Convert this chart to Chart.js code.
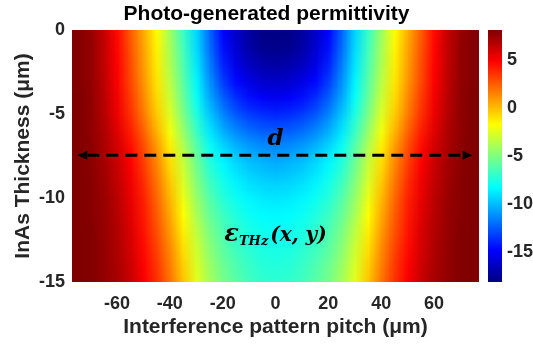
<!DOCTYPE html>
<html>
<head>
<meta charset="utf-8">
<script src="https://cdn.jsdelivr.net/npm/chart.js@4.4.1/dist/chart.umd.min.js"></script>
<style>
  html, body { margin: 0; padding: 0; background: #ffffff; }
  #c { display: block; }
</style>
</head>
<body>
<canvas id="c" width="533" height="345"></canvas>
<script>
// Lateral position across one interference period (um) and depth into the InAs layer (um)
const pitchX = [-75, -70, -65, -60, -55, -50, -45, -40, -35, -30, -25, -20, -15, -10, -5, 0,
                5, 10, 15, 20, 25, 30, 35, 40, 45, 50, 55, 60, 65, 70, 75];
const depthY = [0, -1, -2, -3, -4, -5, -6, -7, -8, -9, -10, -11, -12, -13, -14, -15];

// Photo-generated THz permittivity, one row per depth
const epsD0  = [8.0, 7.5, 6.3, 4.6, 2.5, 0.4, -1.7, -4.2, -6.8, -9.3, -12.2, -14.8, -16.3, -17.3, -17.9, -18.0, -17.9, -17.3, -16.3, -14.8, -12.2, -9.3, -6.8, -4.2, -1.7, 0.4, 2.5, 4.6, 6.3, 7.5, 8.0];
const epsD1  = [8.0, 7.6, 6.4, 4.7, 2.7, 0.6, -1.5, -4.0, -6.6, -9.2, -12.0, -14.5, -16.0, -17.1, -17.7, -17.8, -17.7, -17.1, -16.0, -14.5, -12.0, -9.2, -6.6, -4.0, -1.5, 0.6, 2.7, 4.7, 6.4, 7.6, 8.0];
const epsD2  = [8.0, 7.6, 6.4, 4.8, 2.9, 0.8, -1.3, -3.8, -6.3, -8.9, -11.6, -14.0, -15.5, -16.5, -17.0, -17.2, -17.0, -16.5, -15.5, -14.0, -11.6, -8.9, -6.3, -3.8, -1.3, 0.8, 2.9, 4.8, 6.4, 7.6, 8.0];
const epsD3  = [8.0, 7.6, 6.5, 4.9, 3.0, 1.0, -1.1, -3.5, -6.0, -8.5, -11.1, -13.3, -14.7, -15.6, -16.1, -16.3, -16.1, -15.6, -14.7, -13.3, -11.1, -8.5, -6.0, -3.5, -1.1, 1.0, 3.0, 4.9, 6.5, 7.6, 8.0];
const epsD4  = [8.1, 7.7, 6.6, 5.1, 3.3, 1.3, -0.8, -3.1, -5.6, -8.1, -10.5, -12.4, -13.7, -14.5, -15.0, -15.2, -15.0, -14.5, -13.7, -12.4, -10.5, -8.1, -5.6, -3.1, -0.8, 1.3, 3.3, 5.1, 6.6, 7.7, 8.1];
const epsD5  = [8.1, 7.7, 6.7, 5.3, 3.6, 1.7, -0.4, -2.6, -5.1, -7.5, -9.7, -11.4, -12.6, -13.3, -13.7, -13.9, -13.7, -13.3, -12.6, -11.4, -9.7, -7.5, -5.1, -2.6, -0.4, 1.7, 3.6, 5.3, 6.7, 7.7, 8.1];
const epsD6  = [8.1, 7.7, 6.9, 5.6, 4.1, 2.3, 0.2, -2.0, -4.4, -6.8, -8.9, -10.3, -11.3, -12.0, -12.4, -12.5, -12.4, -12.0, -11.3, -10.3, -8.9, -6.8, -4.4, -2.0, 0.2, 2.3, 4.1, 5.6, 6.9, 7.7, 8.1];
const epsD7  = [8.1, 7.8, 7.0, 6.0, 4.6, 2.9, 0.9, -1.3, -3.7, -6.0, -8.0, -9.2, -10.1, -10.7, -11.1, -11.3, -11.1, -10.7, -10.1, -9.2, -8.0, -6.0, -3.7, -1.3, 0.9, 2.9, 4.6, 6.0, 7.0, 7.8, 8.1];
const epsD8  = [8.1, 7.8, 7.2, 6.2, 4.9, 3.3, 1.4, -0.8, -3.1, -5.4, -7.3, -8.4, -9.2, -9.8, -10.1, -10.3, -10.1, -9.8, -9.2, -8.4, -7.3, -5.4, -3.1, -0.8, 1.4, 3.3, 4.9, 6.2, 7.2, 7.8, 8.1];
const epsD9  = [8.1, 7.9, 7.3, 6.4, 5.2, 3.7, 1.8, -0.3, -2.7, -4.9, -6.7, -7.8, -8.6, -9.1, -9.4, -9.5, -9.4, -9.1, -8.6, -7.8, -6.7, -4.9, -2.7, -0.3, 1.8, 3.7, 5.2, 6.4, 7.3, 7.9, 8.1];
const epsD10 = [8.1, 7.9, 7.4, 6.6, 5.4, 4.0, 2.2, 0.1, -2.2, -4.4, -6.1, -7.3, -8.0, -8.5, -8.8, -8.9, -8.8, -8.5, -8.0, -7.3, -6.1, -4.4, -2.2, 0.1, 2.2, 4.0, 5.4, 6.6, 7.4, 7.9, 8.1];
const epsD11 = [8.1, 7.9, 7.5, 6.7, 5.6, 4.2, 2.5, 0.5, -1.7, -3.9, -5.6, -6.7, -7.5, -8.0, -8.3, -8.4, -8.3, -8.0, -7.5, -6.7, -5.6, -3.9, -1.7, 0.5, 2.5, 4.2, 5.6, 6.7, 7.5, 7.9, 8.1];
const epsD12 = [8.1, 8.0, 7.5, 6.8, 5.8, 4.4, 2.8, 0.9, -1.3, -3.4, -5.1, -6.3, -7.0, -7.6, -7.9, -8.0, -7.9, -7.6, -7.0, -6.3, -5.1, -3.4, -1.3, 0.9, 2.8, 4.4, 5.8, 6.8, 7.5, 8.0, 8.1];
const epsD13 = [8.1, 8.0, 7.6, 6.9, 5.9, 4.6, 3.1, 1.3, -0.9, -3.0, -4.7, -5.9, -6.7, -7.2, -7.6, -7.7, -7.6, -7.2, -6.7, -5.9, -4.7, -3.0, -0.9, 1.3, 3.1, 4.6, 5.9, 6.9, 7.6, 8.0, 8.1];
const epsD14 = [8.1, 8.0, 7.6, 7.0, 6.1, 4.8, 3.4, 1.6, -0.5, -2.7, -4.3, -5.5, -6.3, -6.9, -7.3, -7.4, -7.3, -6.9, -6.3, -5.5, -4.3, -2.7, -0.5, 1.6, 3.4, 4.8, 6.1, 7.0, 7.6, 8.0, 8.1];
const epsD15 = [8.1, 8.0, 7.6, 7.1, 6.2, 5.0, 3.6, 1.9, -0.2, -2.4, -4.0, -5.2, -6.0, -6.6, -7.0, -7.1, -7.0, -6.6, -6.0, -5.2, -4.0, -2.4, -0.2, 1.9, 3.6, 5.0, 6.2, 7.1, 7.6, 8.0, 8.1];

const xTicks = [-60, -40, -20, 0, 20, 40, 60];
const yTicks = [0, -5, -10, -15];
const cbarTicks = [5, 0, -5, -10, -15];
const cbarMin = -18.1;
const cbarMax = 8.1;

// Annotation anchors in data units
const arrowDepth = -7.45;
const arrowFrom = -75;
const arrowTo = 74.6;
const dLabelAt = [0, -6.85];
const epsLabelAt = [0, -12.55];

const epsRows = [epsD0, epsD1, epsD2, epsD3, epsD4, epsD5, epsD6, epsD7,
                 epsD8, epsD9, epsD10, epsD11, epsD12, epsD13, epsD14, epsD15];

const gridPoints = [];
epsRows.forEach((row, j) => row.forEach((v, i) => gridPoints.push({ x: pitchX[i], y: depthY[j], v })));

// MATLAB-style jet colour map
function jet(t) {
  t = Math.min(1, Math.max(0, t));
  const c = v => Math.min(1, Math.max(0, v));
  return [c(Math.min(4 * t - 1.5, -4 * t + 4.5)),
          c(Math.min(4 * t - 0.5, -4 * t + 3.5)),
          c(Math.min(4 * t + 0.5, -4 * t + 2.5))];
}

const heatmapPlugin = {
  id: 'heatmap',
  beforeDatasetsDraw(chart) {
    const { ctx, chartArea: a, scales: { x, y } } = chart;
    const nx = pitchX.length, ny = depthY.length;
    const off = document.createElement('canvas');
    off.width = nx; off.height = ny;
    const octx = off.getContext('2d');
    const img = octx.createImageData(nx, ny);
    for (let j = 0; j < ny; j++) {
      for (let i = 0; i < nx; i++) {
        const rgb = jet((epsRows[j][i] - cbarMin) / (cbarMax - cbarMin));
        const k = (j * nx + i) * 4;
        img.data[k] = Math.round(rgb[0] * 255);
        img.data[k + 1] = Math.round(rgb[1] * 255);
        img.data[k + 2] = Math.round(rgb[2] * 255);
        img.data[k + 3] = 255;
      }
    }
    octx.putImageData(img, 0, 0);
    const hx = (pitchX[1] - pitchX[0]) / 2;
    const hy = (depthY[0] - depthY[1]) / 2;
    const left = x.getPixelForValue(pitchX[0] - hx);
    const right = x.getPixelForValue(pitchX[nx - 1] + hx);
    const top = y.getPixelForValue(depthY[0] + hy);
    const bottom = y.getPixelForValue(depthY[ny - 1] - hy);
    ctx.save();
    ctx.beginPath();
    ctx.rect(a.left, a.top, a.right - a.left, a.bottom - a.top);
    ctx.clip();
    ctx.imageSmoothingEnabled = true;
    ctx.drawImage(off, left, top, right - left, bottom - top);
    ctx.restore();
  },
  afterDatasetsDraw(chart) {
    const { ctx, scales: { x, y } } = chart;
    ctx.save();
    // dashed double arrow marking the pitch d
    const yA = y.getPixelForValue(arrowDepth);
    const xL = x.getPixelForValue(arrowFrom);
    const xR = x.getPixelForValue(arrowTo);
    const head = 10, half = 4.5;
    ctx.strokeStyle = '#000';
    ctx.fillStyle = '#000';
    ctx.lineWidth = 3;
    ctx.setLineDash([12, 7]);
    ctx.beginPath();
    ctx.moveTo(xL + head, yA);
    ctx.lineTo(xR - head, yA);
    ctx.stroke();
    ctx.setLineDash([]);
    ctx.beginPath();
    ctx.moveTo(xL, yA); ctx.lineTo(xL + head, yA - half); ctx.lineTo(xL + head, yA + half); ctx.closePath();
    ctx.fill();
    ctx.beginPath();
    ctx.moveTo(xR, yA); ctx.lineTo(xR - head, yA - half); ctx.lineTo(xR - head, yA + half); ctx.closePath();
    ctx.fill();

    // "d" label
    ctx.textBaseline = 'alphabetic';
    ctx.textAlign = 'center';
    ctx.font = 'italic bold 23px "DejaVu Serif"';
    ctx.fillText('d', x.getPixelForValue(dLabelAt[0]), y.getPixelForValue(dLabelAt[1]));

    // epsilon_THz(x, y) label
    const fMain = 'italic bold 20px "DejaVu Serif"';
    const fEps = 'italic bold 24px "DejaVu Serif"';
    const fSub = 'italic bold 13px "DejaVu Serif"';
    ctx.textAlign = 'left';
    ctx.font = fEps; const w1 = ctx.measureText('ε').width;
    ctx.font = fSub; const w2 = ctx.measureText('THz').width;
    ctx.font = fMain; const w3 = ctx.measureText('(x, y)').width;
    const total = w1 + w2 + 2 + w3;
    let px = x.getPixelForValue(epsLabelAt[0]) - total / 2;
    const base = y.getPixelForValue(epsLabelAt[1]);
    ctx.font = fEps; ctx.fillText('ε', px, base); px += w1;
    ctx.font = fSub; ctx.fillText('THz', px, base + 4); px += w2 + 2;
    ctx.font = fMain; ctx.fillText('(x, y)', px, base);
    ctx.restore();
  },
  afterDraw(chart) {
    // colour bar beside the plot, drawn against its own scale
    const { ctx, chartArea: a, scales: { cb } } = chart;
    const x0 = a.right + 9, w = 14;
    const yMin = cb.getPixelForValue(cbarMin), yMax = cb.getPixelForValue(cbarMax);
    const g = ctx.createLinearGradient(0, yMin, 0, yMax);
    [[0, '#000080'], [0.125, '#0000ff'], [0.375, '#00ffff'], [0.625, '#ffff00'], [0.875, '#ff0000'], [1, '#800000']]
      .forEach(([s, c]) => g.addColorStop(s, c));
    ctx.save();
    ctx.fillStyle = g;
    ctx.fillRect(x0, yMax, w, yMin - yMax);
    ctx.restore();
  }
};

const tickFont = { family: '"Liberation Sans", Arial, sans-serif', size: 18, weight: 'bold' };
const titleFont = { family: '"Liberation Sans", Arial, sans-serif', size: 21, weight: 'bold' };
const axisColor = '#262626';

// fixed box sizes so the plot area sits at a known place
const fixBox = size => s => {
  if (s.isHorizontal()) { s.height = size; } else { s.width = size; }
  s.paddingTop = 0; s.paddingBottom = 0; s.paddingLeft = 0; s.paddingRight = 0;
};

new Chart(document.getElementById('c'), {
  type: 'scatter',
  data: {
    datasets: [{
      label: 'permittivity',
      data: gridPoints,
      pointRadius: 0,
      pointHoverRadius: 0,
      showLine: false
    }]
  },
  options: {
    responsive: false,
    animation: false,
    devicePixelRatio: 1,
    layout: { padding: 0 },
    plugins: {
      legend: { display: false },
      tooltip: { enabled: false },
      title: {
        display: true,
        text: 'Photo-generated permittivity',
        color: '#000',
        font: titleFont,
        padding: { top: 2, bottom: 2.8 }
      }
    },
    scales: {
      x: {
        type: 'linear',
        position: 'bottom',
        min: -77,
        max: 77,
        grid: { display: false, drawTicks: false },
        border: { display: false },
        afterBuildTicks: s => { s.ticks = xTicks.map(v => ({ value: v })); },
        afterFit: fixBox(63),
        ticks: { font: tickFont, color: axisColor, padding: 11, autoSkip: false, maxRotation: 0 },
        title: {
          display: true,
          text: 'Interference pattern pitch (μm)',
          color: axisColor,
          font: titleFont,
          padding: { top: 0, bottom: 5 }
        }
      },
      y: {
        type: 'linear',
        position: 'left',
        min: -15,
        max: 0,
        grid: { display: false, drawTicks: false },
        border: { display: false },
        afterBuildTicks: s => { s.ticks = yTicks.map(v => ({ value: v })); },
        afterFit: fixBox(72),
        ticks: { font: tickFont, color: axisColor, padding: 7, autoSkip: false },
        title: {
          display: true,
          text: 'InAs Thickness (μm)',
          color: axisColor,
          font: titleFont,
          padding: { top: 11, bottom: 0 }
        }
      },
      cb: {
        type: 'linear',
        position: 'right',
        min: cbarMin,
        max: cbarMax,
        grid: { display: false, drawTicks: false },
        border: { display: false },
        afterBuildTicks: s => { s.ticks = cbarTicks.map(v => ({ value: v })); },
        afterFit: fixBox(54),
        ticks: { font: tickFont, color: axisColor, padding: 28, autoSkip: false }
      }
    }
  },
  plugins: [heatmapPlugin]
});
</script>
</body>
</html>
